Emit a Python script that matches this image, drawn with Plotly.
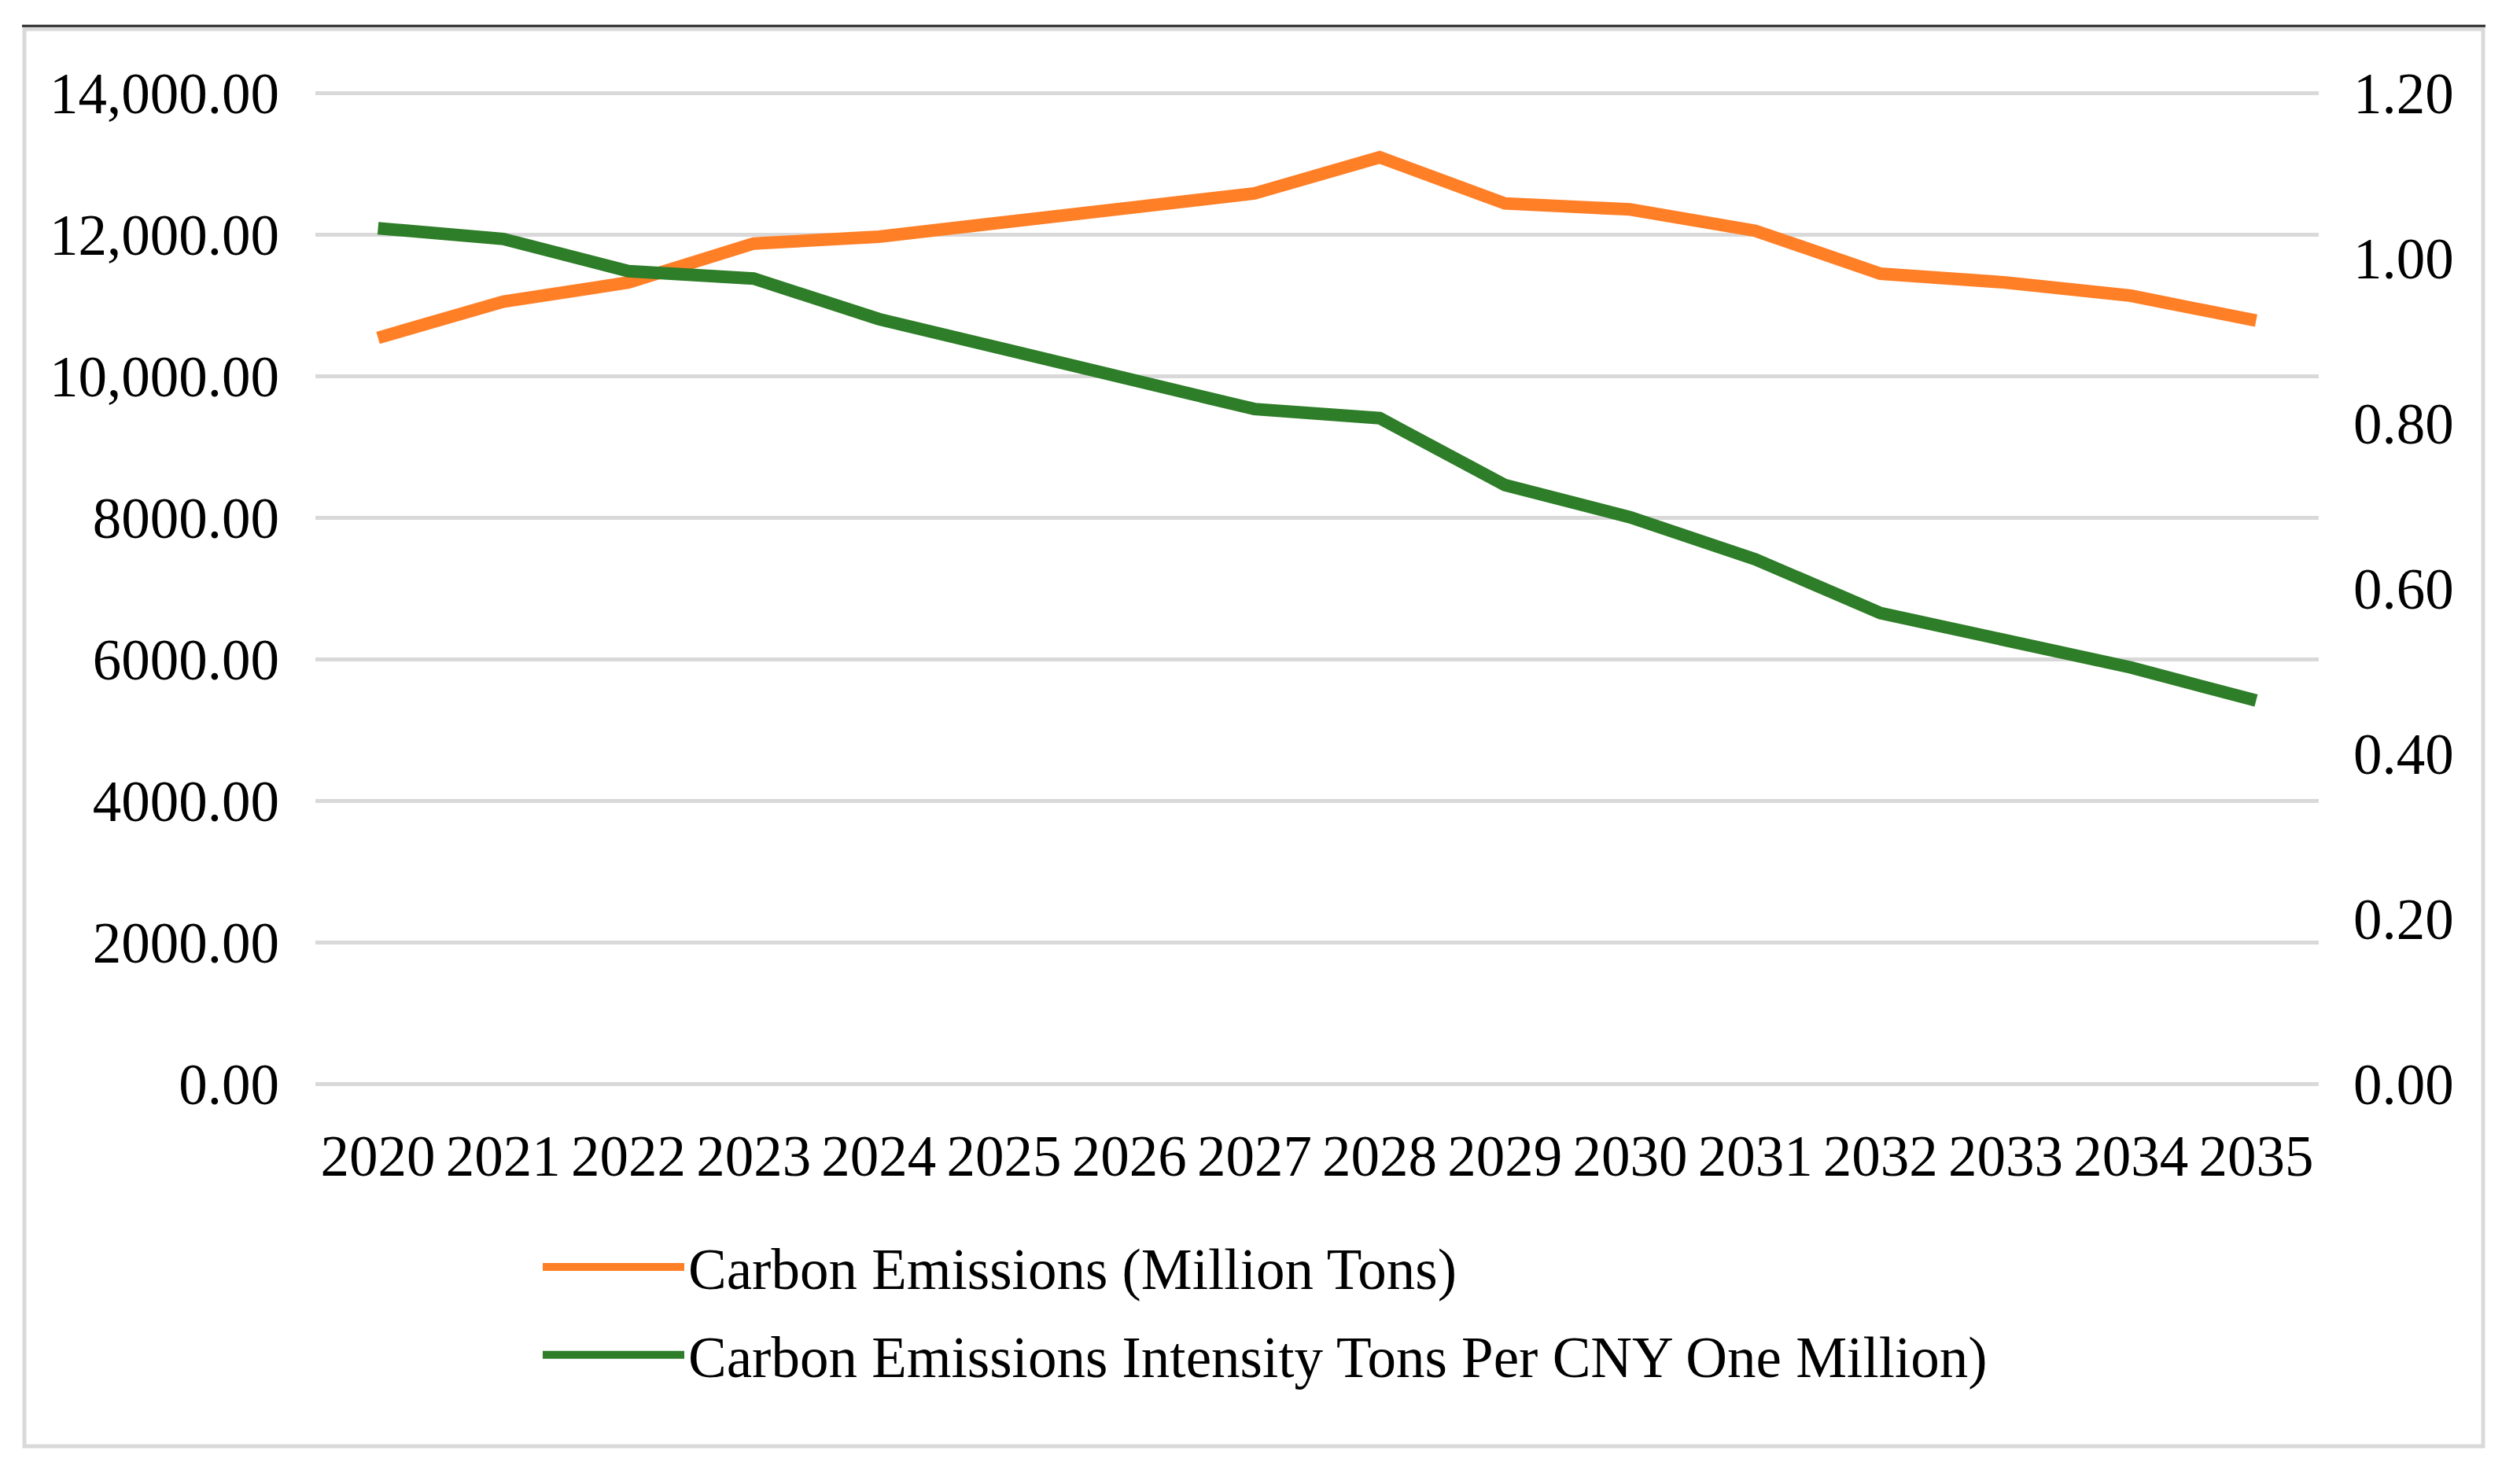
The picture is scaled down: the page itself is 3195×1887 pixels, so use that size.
import plotly.graph_objects as go

years = [str(y) for y in range(2020, 2036)]
emissions = [10538, 11048, 11320, 11870, 11967, 12170, 12380, 12578,
             13089, 12437, 12352, 12051, 11444, 11320, 11133, 10781]
intensity = [1.036, 1.023, 0.984, 0.975, 0.926, 0.890, 0.856, 0.817,
             0.806, 0.725, 0.686, 0.635, 0.570, 0.538, 0.504, 0.464]

left_ticks = [0, 2000, 4000, 6000, 8000, 10000, 12000, 14000]
left_labels = ["0.00", "2000.00", "4000.00", "6000.00", "8000.00",
               "10,000.00", "12,000.00", "14,000.00"]
right_ticks = [0, 0.2, 0.4, 0.6, 0.8, 1.0, 1.2]
right_labels = ["0.00", "0.20", "0.40", "0.60", "0.80", "1.00", "1.20"]

names = ["Carbon Emissions (Million Tons)",
         "Carbon Emissions Intensity Tons Per CNY One Million)"]
colors = ["#FF7F27", "#2E7D28"]

W, H = 3195, 1887
L, R = 393, 2940
Y_TOP, Y_ZERO = 110, 1370        # pixel rows of the 14,000 and 0 gridlines
PADPX = 5                        # extra plot height so edge gridlines show
T, B = Y_TOP - PADPX, Y_ZERO + PADPX
FONT = "Liberation Serif, Times New Roman, serif"
FS = 73

pad_units = PADPX * 14000 / (Y_ZERO - Y_TOP)
y1_range = [-pad_units, 14000 + pad_units]
y2_range = [-pad_units * 1.2 / 14000, 1.2 + pad_units * 1.2 / 14000]


def px(x):
    return (x - L) / (R - L)


def py(y):
    return (B - y) / (B - T)


fig = go.Figure()
fig.add_trace(go.Scatter(x=years, y=emissions, name=names[0], mode="lines",
                         line=dict(color=colors[0], width=16),
                         legendgroup="a", yaxis="y"))
fig.add_trace(go.Scatter(x=years, y=intensity, name=names[1], mode="lines",
                         line=dict(color=colors[1], width=16),
                         legendgroup="b", yaxis="y2"))

fig.update_layout(
    width=W, height=H,
    margin=dict(l=L, r=W - R, t=T, b=H - B, autoexpand=False),
    paper_bgcolor="white", plot_bgcolor="white",
    font=dict(family=FONT, size=FS, color="black"),
    showlegend=True,
    legend=dict(x=px(677), y=py(1549), xanchor="left", yanchor="top",
                orientation="v", itemwidth=180, tracegroupgap=14,
                font=dict(family=FONT, size=FS, color="black"),
                bgcolor="rgba(0,0,0,0)"),
    xaxis=dict(type="category", range=[-0.5, 15.5], showgrid=False,
               zeroline=False, showline=False, ticks="",
               ticklabelstandoff=43 - PADPX, automargin=False,
               tickfont=dict(family=FONT, size=FS, color="black")),
    yaxis=dict(range=y1_range, tickvals=left_ticks, ticktext=left_labels,
               showgrid=True, gridcolor="#D9D9D9", gridwidth=5,
               zeroline=False, showline=False, ticks="",
               ticklabelstandoff=45, automargin=False,
               tickfont=dict(family=FONT, size=FS, color="black")),
    yaxis2=dict(range=y2_range, tickvals=right_ticks, ticktext=right_labels,
                overlaying="y", side="right", showgrid=False,
                zeroline=False, showline=False, ticks="",
                ticklabelstandoff=43, automargin=False,
                tickfont=dict(family=FONT, size=FS, color="black")),
    shapes=[
        dict(type="rect", xref="paper", yref="paper",
             x0=px(23), x1=px(3149), y0=py(1831), y1=py(29),
             line=dict(color="#D9D9D9", width=5), layer="below"),
        dict(type="line", xref="paper", yref="paper",
             x0=px(20), x1=px(3152), y0=py(25), y1=py(25),
             line=dict(color="#222222", width=3)),
    ],
)

fig.write_html("out.html", config={"displayModeBar": False})
